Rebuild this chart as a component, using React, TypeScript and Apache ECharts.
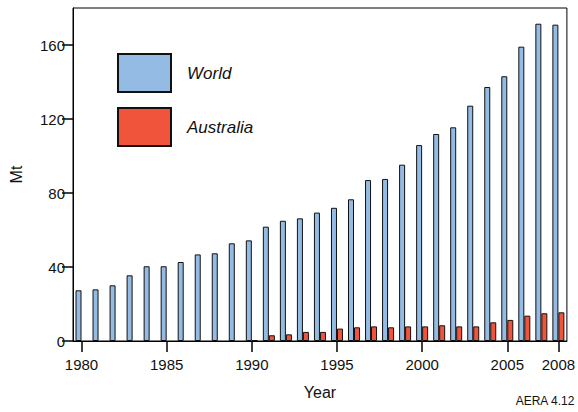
import React, { useEffect, useRef } from "react";
import * as echarts from "echarts";

const years: string[] = [
  "1980", "1981", "1982", "1983", "1984", "1985", "1986", "1987", "1988", "1989",
  "1990", "1991", "1992", "1993", "1994", "1995", "1996", "1997", "1998", "1999",
  "2000", "2001", "2002", "2003", "2004", "2005", "2006", "2007", "2008",
];
const world: number[] = [
  27.4, 27.9, 30.1, 35.5, 40.4, 40.4, 42.7, 46.8, 47.4, 52.8,
  54.4, 61.8, 65.0, 66.3, 69.4, 72.0, 76.6, 87.0, 87.6, 95.3,
  105.9, 111.9, 115.5, 127.2, 137.3, 143.1, 159.1, 171.5, 171.0,
];
const australia: (number | null)[] = [
  null, null, null, null, null, null, null, null, null, null,
  0.5, 3.1, 3.6, 4.9, 4.9, 6.7, 7.4, 7.9, 7.4, 7.9,
  7.9, 8.5, 7.9, 7.9, 10.1, 11.4, 13.7, 15.0, 15.5,
];
const tickYears: string[] = ["1980", "1985", "1990", "1995", "2000", "2005", "2008"];
const yTicks: number[] = [0, 40, 80, 120, 160];

const FONT = "Liberation Sans, Arial, Helvetica, sans-serif";

export default function App() {
  const ref = useRef<HTMLDivElement>(null);
  useEffect(() => {
    if (!ref.current) return;
    const chart = echarts.init(ref.current, null, { renderer: "svg" });
    const showYear = (i: number) => tickYears.indexOf(years[i]) >= 0;
    chart.setOption({
      animation: false,
      textStyle: { fontFamily: FONT },
      grid: {
        left: 71,
        right: 9,
        top: 8,
        bottom: 71,
        show: true,
        borderColor: "#000",
        borderWidth: 1,
      },
      legend: {
        orient: "vertical",
        left: 112,
        top: 48,
        padding: 5,
        itemWidth: 53,
        itemHeight: 38,
        itemGap: 14,
        icon: "rect",
        data: ["World", "Australia"],
        textStyle: {
          fontFamily: FONT,
          fontSize: 17,
          fontStyle: "italic",
          color: "#111",
          padding: [0, 0, 0, 11],
        },
      },
      xAxis: {
        type: "category",
        data: years,
        boundaryGap: true,
        name: "Year",
        nameLocation: "middle",
        nameGap: 43,
        nameTextStyle: { fontFamily: FONT, fontSize: 16, color: "#111" },
        axisLine: { show: true, lineStyle: { color: "#000", width: 1 } },
        axisTick: {
          show: true,
          alignWithLabel: true,
          length: 11,
          interval: (i: number) => showYear(i),
          lineStyle: { color: "#000", width: 1.5 },
        },
        axisLabel: {
          interval: (i: number) => showYear(i),
          margin: 16,
          fontFamily: FONT,
          fontSize: 15,
          color: "#111",
        },
        splitLine: { show: false },
      },
      yAxis: {
        type: "value",
        min: 0,
        max: 180,
        interval: 40,
        name: "Mt",
        nameLocation: "middle",
        nameGap: 49,
        nameTextStyle: { fontFamily: FONT, fontSize: 16, color: "#111" },
        axisLine: { show: true, lineStyle: { color: "#000", width: 1 } },
        axisTick: {
          show: true,
          length: 11,
          customValues: yTicks,
          lineStyle: { color: "#000", width: 1.5 },
        },
        axisLabel: {
          customValues: yTicks,
          margin: 8,
          fontFamily: FONT,
          fontSize: 15,
          color: "#111",
        },
        splitLine: { show: false },
      },
      graphic: [
        {
          type: "text",
          right: 3,
          top: 395,
          style: {
            text: "AERA 4.12",
            fontFamily: FONT,
            fontSize: 12,
            fill: "#111",
          },
        },
      ],
      series: [
        {
          name: "World",
          type: "bar",
          data: world,
          barWidth: 6,
          barGap: "0%",
          itemStyle: { color: "#94bbe3", borderColor: "#111", borderWidth: 1 },
        },
        {
          name: "Australia",
          type: "bar",
          data: australia,
          barWidth: 6,
          barGap: "0%",
          itemStyle: { color: "#f0553c", borderColor: "#111", borderWidth: 1 },
        },
      ],
    });
    return () => chart.dispose();
  }, []);
  return <div ref={ref} style={{ width: 578, height: 412, position: "absolute", left: 0, top: 0 }} />;
}
